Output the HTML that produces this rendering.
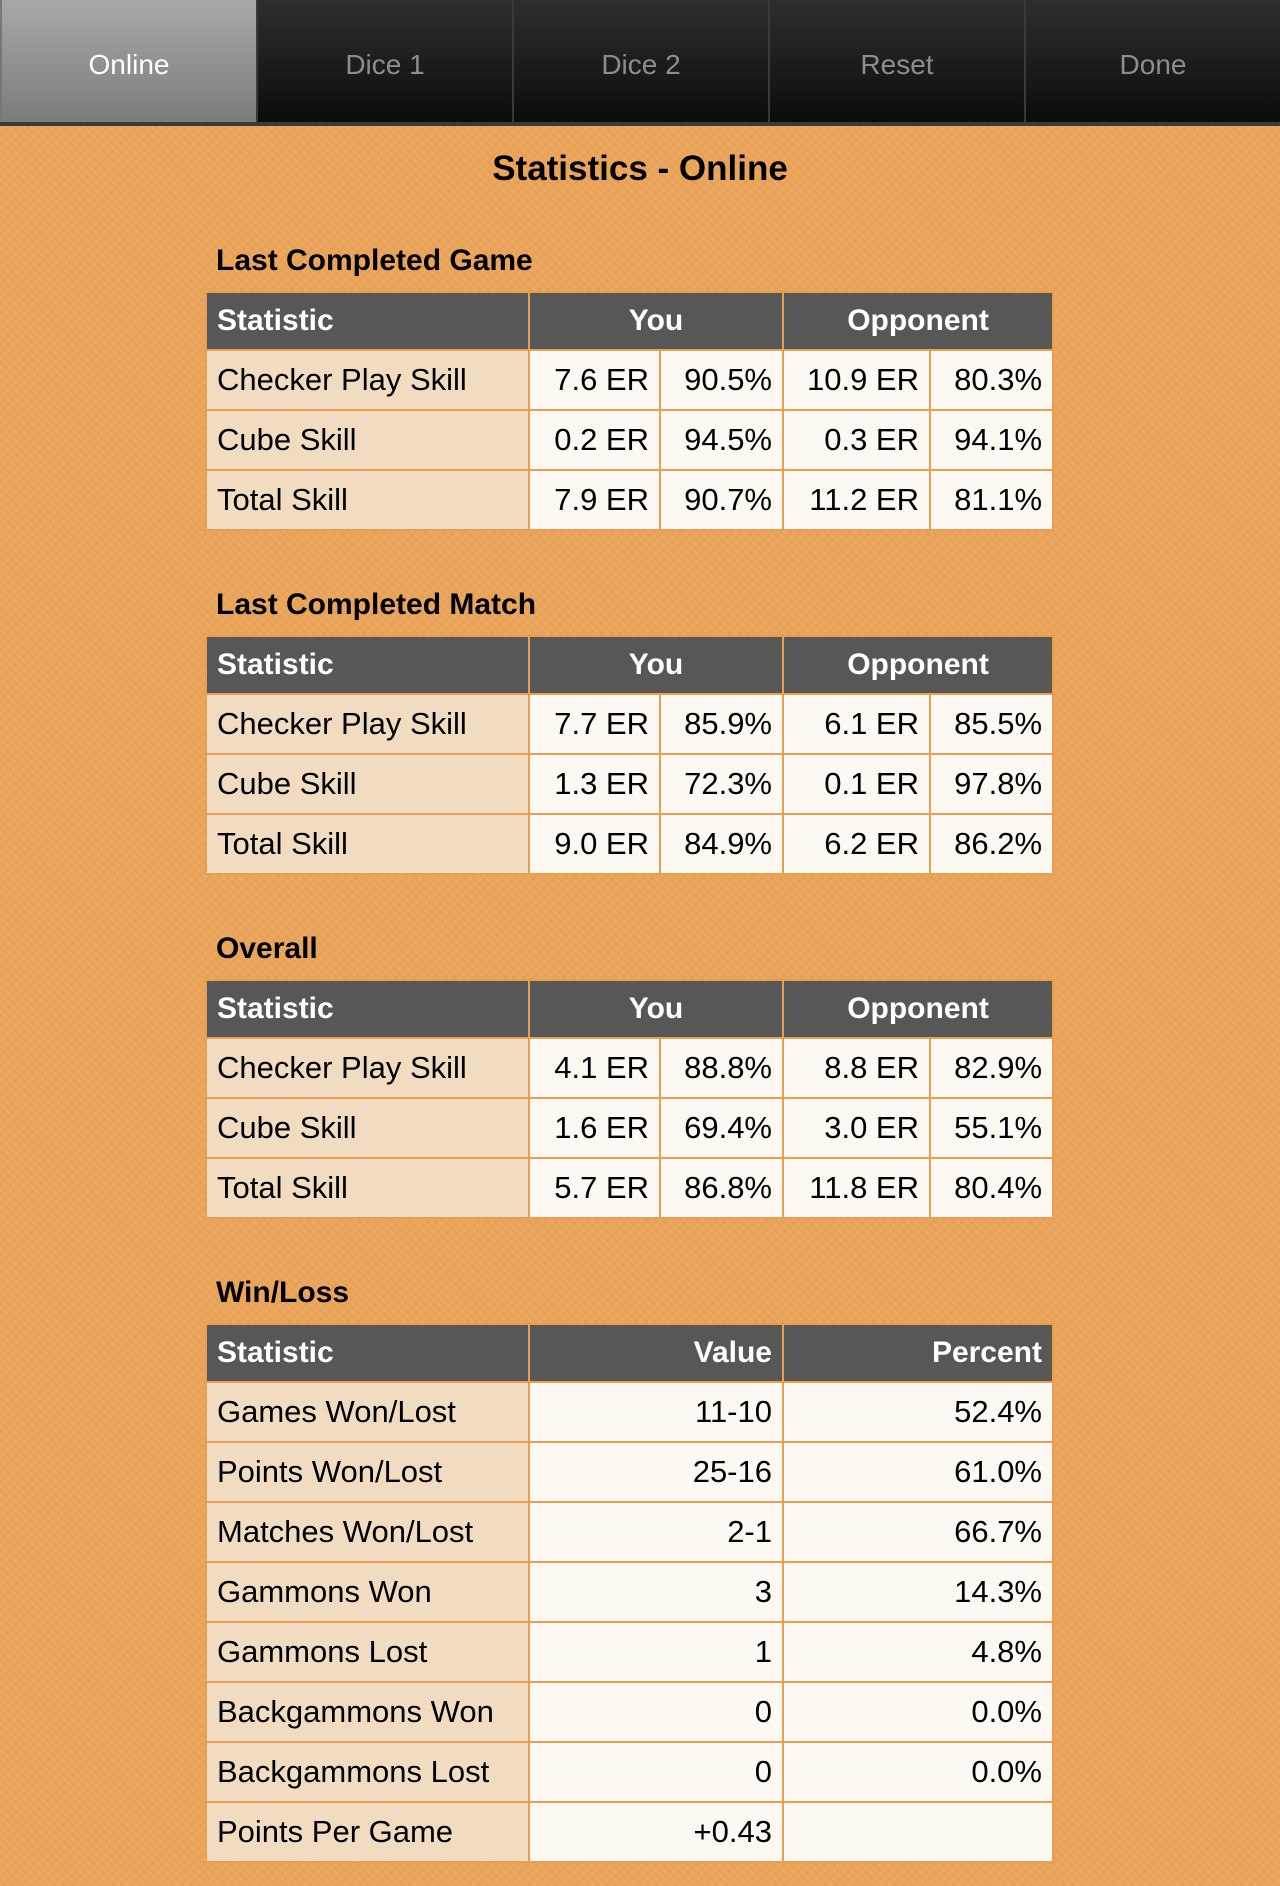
<!DOCTYPE html>
<html><head><meta charset="utf-8"><style>
html,body{margin:0;padding:0}
body{width:1280px;height:1886px;overflow:hidden;position:relative;font-family:"Liberation Sans",sans-serif;
background:#e9a45a;background-image:repeating-linear-gradient(45deg,rgba(255,255,255,.05) 0 2px,transparent 2px 6px),repeating-linear-gradient(-45deg,rgba(160,90,20,.06) 0 2px,transparent 2px 7px);}
.nav{position:absolute;left:0;top:0;width:1280px;height:122px;border-bottom:4px solid #3a3a3a;display:flex;background:#111}
.tab{flex:1;height:122px;line-height:130px;text-align:center;font-size:28px;color:#8d8d8d;background:linear-gradient(#2e2e2e,#0c0c0c);border-left:2px solid #3a3a3a;box-sizing:border-box}
.tab.on{background:linear-gradient(#a8a8a8,#7c7c7c);color:#fff;border-left:2px solid #777}
.title{position:absolute;top:149px;left:0;width:1280px;text-align:center;font-weight:bold;font-size:35px}
h2{position:absolute;left:216px;margin:0;font-size:30px;font-weight:bold}
table{position:absolute;left:205px;width:847px;border-collapse:collapse;table-layout:fixed;font-size:31px}
td,th{border:2px solid #e9a04e;padding:0 10px;white-space:nowrap;box-sizing:border-box}
th{height:58px;background:#575757;color:#fff;font-weight:bold;font-size:30px}
td{height:60px;background:#fdf9f2;text-align:right}
td.l{background:#f2dcc1;text-align:left}
th.l{text-align:left}
</style></head><body>
<div class="nav"><div class="tab on">Online</div><div class="tab">Dice 1</div><div class="tab">Dice 2</div><div class="tab">Reset</div><div class="tab">Done</div></div>
<div class="title">Statistics - Online</div>

<h2 style="top:244px">Last Completed Game</h2>
<table style="top:291px"><colgroup><col style="width:323px"><col style="width:131px"><col style="width:123px"><col style="width:147px"><col style="width:123px"></colgroup>
<tr><th class="l">Statistic</th><th colspan="2">You</th><th colspan="2">Opponent</th></tr>
<tr><td class="l">Checker Play Skill</td><td>7.6 ER</td><td>90.5%</td><td>10.9 ER</td><td>80.3%</td></tr>
<tr><td class="l">Cube Skill</td><td>0.2 ER</td><td>94.5%</td><td>0.3 ER</td><td>94.1%</td></tr>
<tr><td class="l">Total Skill</td><td>7.9 ER</td><td>90.7%</td><td>11.2 ER</td><td>81.1%</td></tr>
</table>

<h2 style="top:588px">Last Completed Match</h2>
<table style="top:635px"><colgroup><col style="width:323px"><col style="width:131px"><col style="width:123px"><col style="width:147px"><col style="width:123px"></colgroup>
<tr><th class="l">Statistic</th><th colspan="2">You</th><th colspan="2">Opponent</th></tr>
<tr><td class="l">Checker Play Skill</td><td>7.7 ER</td><td>85.9%</td><td>6.1 ER</td><td>85.5%</td></tr>
<tr><td class="l">Cube Skill</td><td>1.3 ER</td><td>72.3%</td><td>0.1 ER</td><td>97.8%</td></tr>
<tr><td class="l">Total Skill</td><td>9.0 ER</td><td>84.9%</td><td>6.2 ER</td><td>86.2%</td></tr>
</table>

<h2 style="top:932px">Overall</h2>
<table style="top:979px"><colgroup><col style="width:323px"><col style="width:131px"><col style="width:123px"><col style="width:147px"><col style="width:123px"></colgroup>
<tr><th class="l">Statistic</th><th colspan="2">You</th><th colspan="2">Opponent</th></tr>
<tr><td class="l">Checker Play Skill</td><td>4.1 ER</td><td>88.8%</td><td>8.8 ER</td><td>82.9%</td></tr>
<tr><td class="l">Cube Skill</td><td>1.6 ER</td><td>69.4%</td><td>3.0 ER</td><td>55.1%</td></tr>
<tr><td class="l">Total Skill</td><td>5.7 ER</td><td>86.8%</td><td>11.8 ER</td><td>80.4%</td></tr>
</table>

<h2 style="top:1276px">Win/Loss</h2>
<table style="top:1323px"><colgroup><col style="width:323px"><col style="width:254px"><col style="width:270px"></colgroup>
<tr><th class="l">Statistic</th><th style="text-align:right">Value</th><th style="text-align:right">Percent</th></tr>
<tr><td class="l">Games Won/Lost</td><td>11-10</td><td>52.4%</td></tr>
<tr><td class="l">Points Won/Lost</td><td>25-16</td><td>61.0%</td></tr>
<tr><td class="l">Matches Won/Lost</td><td>2-1</td><td>66.7%</td></tr>
<tr><td class="l">Gammons Won</td><td>3</td><td>14.3%</td></tr>
<tr><td class="l">Gammons Lost</td><td>1</td><td>4.8%</td></tr>
<tr><td class="l">Backgammons Won</td><td>0</td><td>0.0%</td></tr>
<tr><td class="l">Backgammons Lost</td><td>0</td><td>0.0%</td></tr>
<tr><td class="l">Points Per Game</td><td>+0.43</td><td></td></tr>
</table>
</body></html>
